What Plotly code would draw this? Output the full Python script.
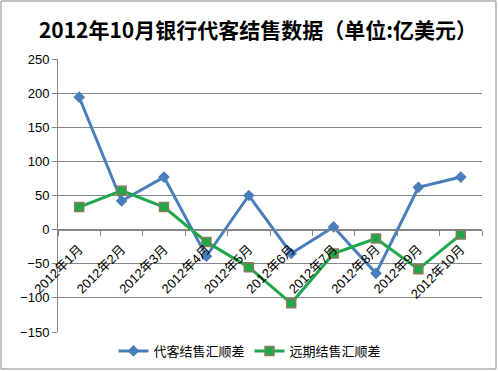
import plotly.graph_objects as go

categories = ["2012年1月", "2012年2月", "2012年3月", "2012年4月", "2012年5月",
              "2012年6月", "2012年7月", "2012年8月", "2012年9月", "2012年10月"]
agent_balance = [194, 42, 77, -39, 50, -35, 4, -64, 62, 77]
forward_balance = [33, 57, 33, -18, -55, -108, -35, -13, -58, -7]
y_ticks = [-150, -100, -50, 0, 50, 100, 150, 200, 250]

W, H = 498, 371
ML, MR, MT, MB = 58, 16, 59, 39
pw, ph = W - ML - MR, H - MT - MB
ymin, ymax = -150, 250

fig = go.Figure()
fig.add_trace(go.Scatter(
    x=categories, y=agent_balance, name="代客结售汇顺差", mode="lines+markers",
    line=dict(color="#4A7EBB", width=3),
    marker=dict(symbol="diamond", size=9, color="#4A7EBB"),
))
fig.add_trace(go.Scatter(
    x=categories, y=forward_balance, name="远期结售汇顺差", mode="lines+markers",
    line=dict(color="#1FA84A", width=3),
    marker=dict(symbol="square", size=9, color="#1FA84A",
                line=dict(color="#8C7A5A", width=1.5)),
))

zero_pos = (0 - ymin) / (ymax - ymin)

fig.update_layout(
    width=W, height=H,
    margin=dict(l=ML, r=MR, t=MT, b=MB, autoexpand=False),
    paper_bgcolor="white", plot_bgcolor="white",
    font=dict(family="Liberation Sans, Noto Sans CJK SC, sans-serif", color="#000000"),
    title=dict(text="<b>2012年10月银行代客结售数据（单位:亿美元）</b>",
               font=dict(size=21, family="Noto Sans CJK SC, sans-serif", color="#000"),
               x=258 / W, xanchor="center", xref="container",
               y=1 - 31 / H, yanchor="middle", yref="container"),
    showlegend=True,
    legend=dict(orientation="h", x=250 / W, xanchor="center", xref="container",
                y=1 - 351 / H, yanchor="middle", yref="container",
                font=dict(size=13, family="Noto Sans CJK SC, sans-serif"),
                itemwidth=30, tracegroupgap=0),
    xaxis=dict(
        type="category", range=[-0.5, len(categories) - 0.5],
        anchor="free", position=zero_pos, automargin=False,
        showline=True, linecolor="#868686", linewidth=1,
        ticks="outside", tickson="boundaries", ticklen=5, tickcolor="#868686",
        ticklabelstandoff=6,
        tickangle=-45, tickfont=dict(size=13, family="Liberation Sans, Noto Sans CJK SC, sans-serif"),
        showgrid=False, zeroline=False,
    ),
    yaxis=dict(
        range=[ymin, ymax], tickvals=y_ticks, automargin=False,
        showgrid=True, gridcolor="#868686", gridwidth=1,
        showline=True, linecolor="#868686", linewidth=1,
        ticks="outside", ticklen=5, tickcolor="#868686",
        zeroline=False, tickfont=dict(size=13),
    ),
    shapes=[dict(type="rect", xref="paper", yref="paper",
                 x0=(1 - ML) / pw, x1=(W - 2 - ML) / pw,
                 y0=-(MB - 2) / ph, y1=1 + (MT - 1) / ph,
                 line=dict(color="#868686", width=1))],
)

fig.write_html("out.html", config={"displayModeBar": False},
               post_script="document.body.style.margin='0';document.body.style.padding='0';")
